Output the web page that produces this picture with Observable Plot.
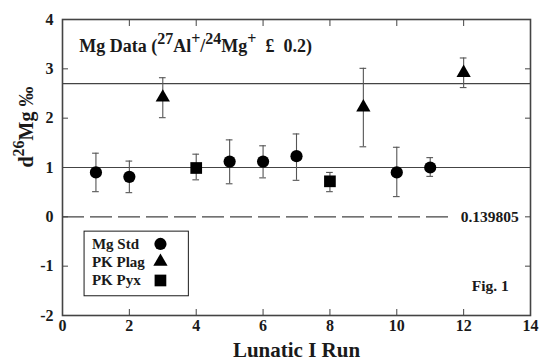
<!DOCTYPE html>
<html>
<head>
<meta charset="utf-8">
<script src="https://cdn.jsdelivr.net/npm/d3@7"></script>
<script src="https://cdn.jsdelivr.net/npm/@observablehq/plot@0.6"></script>
<style>
  html, body { margin: 0; padding: 0; background: #fff; }
  #chart svg, #chart svg text, #chart svg tspan { font-family: "Liberation Serif", "Times New Roman", serif !important; font-weight: bold; }
</style>
</head>
<body>
<div id="chart"></div>
<script>
// ---- data ----
const stdRun = [1, 2, 5, 6, 7, 10, 11];
const stdVal = [0.90, 0.81, 1.12, 1.12, 1.23, 0.90, 1.00];
const stdLo  = [0.51, 0.49, 0.67, 0.79, 0.74, 0.41, 0.82];
const stdHi  = [1.29, 1.13, 1.56, 1.44, 1.68, 1.41, 1.20];

const plagRun = [3, 9, 12];
const plagVal = [2.42, 2.22, 2.92];
const plagLo  = [2.01, 1.42, 2.62];
const plagHi  = [2.82, 3.01, 3.22];

const pyxRun = [4, 8];
const pyxVal = [0.99, 0.72];
const pyxLo  = [0.75, 0.51];
const pyxHi  = [1.27, 0.90];

const solidRefs = [1, 2.7];
const dashedRef = [0];
const dashedLabel = ["0.139805"];

const xTicks = [0, 2, 4, 6, 8, 10, 12, 14];
const yTicks = [-2, -1, 0, 1, 2, 3, 4];

const seriesNames = ["Mg Std", "PK Plag", "PK Pyx"];
const seriesSymbols = ["circle", "triangle", "square"];

const titleText = "Mg Data (27Al+/24Mg+  £  0.2)";
const yLabelText = "d26Mg ‰";
const xLabelText = "Lunatic I Run";
const figText = "Fig. 1";

// ---- build table ----
function rows(series, runs, vals, lo, hi) {
  return runs.map((r, i) => ({series, run: r, val: vals[i], lo: lo[i], hi: hi[i]}));
}
const data = [
  ...rows("Mg Std", stdRun, stdVal, stdLo, stdHi),
  ...rows("PK Plag", plagRun, plagVal, plagLo, plagHi),
  ...rows("PK Pyx", pyxRun, pyxVal, pyxLo, pyxHi)
];
const symbolSize = {circle: 6.1, triangle: 5.3, square: 6.6};
const legendRows = seriesNames.map((s, i) => ({name: s, symbol: seriesSymbols[i], y: [-0.55, -0.91, -1.29][i]}));

const ink = "#1a1a1a";
const gray = "#444";
const capHalf = 0.1;

const pointMarks = seriesNames.map((s, i) =>
  Plot.dot(data.filter(d => d.series === s), {x: "run", y: "val", symbol: seriesSymbols[i], r: symbolSize[seriesSymbols[i]], fill: "black", stroke: "none"})
);
const legendMarks = legendRows.map(d =>
  Plot.dot([d], {x: 2.93, y: "y", symbol: d.symbol, r: symbolSize[d.symbol], fill: "black", stroke: "none"})
);

const plot = Plot.plot({
  width: 539,
  height: 362,
  marginLeft: 62,
  marginRight: 9,
  marginTop: 19,
  marginBottom: 47,
  x: {domain: [0, 14]},
  y: {domain: [-2, 4]},
  style: {fontFamily: "Liberation Serif", fontWeight: "bold", fontSize: "14px", color: ink, background: "white"},
  marks: [
    // reference lines
    Plot.ruleY(solidRefs, {stroke: gray, strokeWidth: 1.2}),
    Plot.ruleY(dashedRef, {x1: 0, x2: 11.55, stroke: gray, strokeWidth: 1.2, strokeDasharray: "22,6"}),
    Plot.text(dashedLabel, {x: 13.65, y: dashedRef[0], text: d => d, textAnchor: "end", fontSize: 15.5, fill: ink}),
    // error bars
    Plot.ruleX(data, {x: "run", y1: "lo", y2: "hi", stroke: "#555", strokeWidth: 1.1}),
    Plot.ruleY(data, {y: "hi", x1: d => d.run - capHalf, x2: d => d.run + capHalf, stroke: "#555", strokeWidth: 1.1}),
    Plot.ruleY(data, {y: "lo", x1: d => d.run - capHalf, x2: d => d.run + capHalf, stroke: "#555", strokeWidth: 1.1}),
    // points
    ...pointMarks,
    // axes (inward ticks)
    Plot.axisX(xTicks, {anchor: "bottom", tickSize: -6, tickPadding: 10, fontSize: 16, tickFormat: d => String(d), label: null, stroke: gray, fill: ink}),
    Plot.axisX(xTicks, {anchor: "top", tickSize: -6, text: null, label: null, stroke: gray}),
    Plot.axisY(yTicks, {anchor: "left", tickSize: -6, tickPadding: 15, fontSize: 16, tickFormat: d => String(d), label: null, stroke: gray, fill: ink}),
    Plot.axisY(yTicks, {anchor: "right", tickSize: -6, text: null, label: null, stroke: gray}),
    Plot.frame({stroke: gray, strokeWidth: 1.6}),
    // legend
    Plot.rect([0], {x1: 0.66, x2: 3.78, y1: -0.30, y2: -1.61, fill: "white", stroke: ink, strokeWidth: 1}),
    Plot.text(legendRows, {x: 0.88, y: "y", text: "name", textAnchor: "start", fontSize: 15, fill: ink}),
    ...legendMarks,
    // annotations
    Plot.text([titleText], {x: 0.5, y: 3.45, text: d => d, textAnchor: "start", fontSize: 18, fill: ink}),
    Plot.text([figText], {x: 12.24, y: -1.4, text: d => d, textAnchor: "start", fontSize: 15.5, fill: ink}),
    Plot.text([xLabelText], {frameAnchor: "bottom", dy: 41, text: d => d, fontSize: 21, fill: ink}),
    Plot.text([yLabelText], {frameAnchor: "left", dx: -36, rotate: -90, text: d => d, fontSize: 20, fill: ink})
  ]
});

// rich text (superscripts) for title and y label
function richify(svg, plain, parts, supSize, rise) {
  d3.select(svg).selectAll("text").filter(function() { return this.textContent === plain; }).each(function() {
    const t = d3.select(this);
    t.selectAll("*").remove();
    t.text(null);
    let raised = false;
    parts.forEach(([s, sup]) => {
      const sp = t.append("tspan").text(s);
      if (sup && !raised) { sp.attr("dy", -rise).attr("font-size", supSize); raised = true; }
      else if (sup) { sp.attr("font-size", supSize); }
      else if (!sup && raised) { sp.attr("dy", rise); raised = false; }
    });
  });
}
richify(plot, titleText, [["Mg Data (", false], ["27", true], ["Al", false], ["+", true], ["/", false], ["24", true], ["Mg", false], ["+", true], ["  £  0.2)", false]], 16, 8);
richify(plot, yLabelText, [["d", false], ["26", true], ["Mg ‰", false]], 16, 9);

document.getElementById("chart").appendChild(plot);
</script>
</body>
</html>
